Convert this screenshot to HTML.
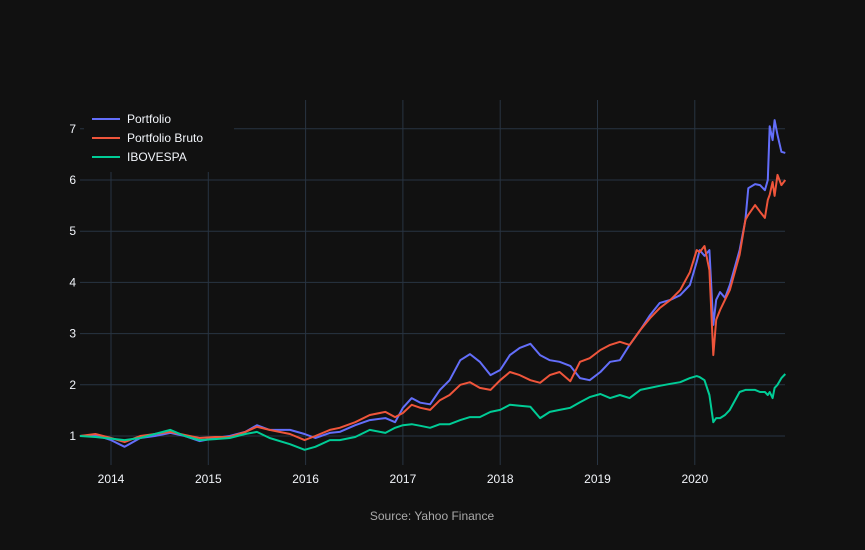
<!DOCTYPE html>
<html><head><meta charset="utf-8"><style>
body{margin:0;background:#111111;}
svg{display:block;font-family:"Liberation Sans",sans-serif;}
</style></head><body>
<svg id="chart" width="865" height="550" xmlns="http://www.w3.org/2000/svg">
<rect width="865" height="550" fill="#111111"/>
<g id="grid"></g><g id="series"></g><g id="axes"></g>
<g id="legend"></g>
<text x="432" y="520" fill="#aaaaaa" font-size="12" text-anchor="middle">Source: Yahoo Finance</text>
</svg>
<script>
const dates=[2013.68,2013.84,2014.00,2014.14,2014.30,2014.45,2014.61,2014.76,2014.91,2015.07,2015.22,2015.38,2015.50,2015.63,2015.84,2015.99,2016.10,2016.25,2016.35,2016.51,2016.66,2016.82,2016.92,2017.00,2017.09,2017.18,2017.28,2017.38,2017.48,2017.59,2017.69,2017.79,2017.90,2018.00,2018.10,2018.20,2018.31,2018.41,2018.51,2018.61,2018.72,2018.82,2018.92,2019.03,2019.13,2019.23,2019.33,2019.44,2019.54,2019.64,2019.75,2019.85,2019.95,2020.02,2020.05,2020.10,2020.15,2020.19,2020.22,2020.26,2020.31,2020.36,2020.46,2020.52,2020.55,2020.62,2020.67,2020.72,2020.75,2020.77,2020.80,2020.82,2020.85,2020.89,2020.93];
const portfolio=[1.00,1.02,0.92,0.79,0.96,1.00,1.06,1.00,0.90,0.96,1.00,1.08,1.21,1.12,1.12,1.04,0.96,1.06,1.08,1.21,1.31,1.35,1.27,1.55,1.74,1.65,1.62,1.90,2.09,2.48,2.60,2.45,2.19,2.29,2.58,2.72,2.80,2.58,2.48,2.45,2.37,2.13,2.09,2.25,2.45,2.48,2.78,3.07,3.36,3.60,3.66,3.75,3.95,4.40,4.63,4.52,4.63,3.17,3.66,3.81,3.70,3.95,4.63,5.22,5.84,5.92,5.90,5.80,6.00,7.05,6.78,7.17,6.88,6.55,6.53];
const portfolioBruto=[1.00,1.04,0.96,0.88,1.00,1.04,1.08,1.02,0.96,0.98,0.98,1.08,1.18,1.12,1.04,0.92,1.00,1.12,1.16,1.27,1.41,1.47,1.37,1.45,1.61,1.55,1.51,1.70,1.80,2.00,2.05,1.94,1.90,2.09,2.25,2.19,2.09,2.04,2.19,2.25,2.07,2.45,2.52,2.68,2.78,2.84,2.78,3.07,3.30,3.50,3.66,3.85,4.20,4.63,4.59,4.71,4.24,2.58,3.27,3.46,3.66,3.85,4.54,5.22,5.32,5.51,5.38,5.26,5.61,5.71,5.96,5.69,6.10,5.90,6.00];
const ibovespa=[1.00,0.98,0.95,0.92,0.96,1.04,1.12,1.00,0.92,0.94,0.96,1.04,1.08,0.96,0.84,0.73,0.79,0.92,0.92,0.98,1.12,1.06,1.16,1.21,1.23,1.20,1.16,1.23,1.23,1.31,1.37,1.37,1.47,1.51,1.61,1.59,1.57,1.35,1.47,1.51,1.55,1.66,1.76,1.82,1.74,1.80,1.74,1.90,1.94,1.98,2.02,2.05,2.13,2.17,2.15,2.09,1.80,1.27,1.35,1.35,1.41,1.51,1.86,1.90,1.90,1.90,1.86,1.86,1.80,1.86,1.74,1.94,2.00,2.13,2.21];
const xTicks=[2014,2015,2016,2017,2018,2019,2020];
const yTicks=[1,2,3,4,5,6,7];
const seriesNames=["Portfolio","Portfolio Bruto","IBOVESPA"];
const seriesColors=["#636efa","#EF553B","#00cc96"];

const L=80,R=785,T=100,B=465;
const X=t=>111+(t-2014)*97.3;
const Y=v=>436-(v-1)*51.2;
const NS="http://www.w3.org/2000/svg";
function mk(tag,attrs,parent){const e=document.createElementNS(NS,tag);for(const k in attrs)e.setAttribute(k,attrs[k]);parent.appendChild(e);return e;}
const grid=document.getElementById('grid'),axes=document.getElementById('axes'),ser=document.getElementById('series'),leg=document.getElementById('legend');
xTicks.forEach(t=>{
  const l=mk('line',{x1:X(t),x2:X(t),y1:T,y2:B,stroke:'#283442','stroke-width':1},grid);
  
  
  const tx=mk('text',{x:X(t),y:483,fill:'#f2f5fa','font-size':12,'text-anchor':'middle'},axes);
  tx.textContent=t;
  
  
});
yTicks.forEach(v=>{
  const l=mk('line',{x1:L,x2:R,y1:Y(v),y2:Y(v),stroke:'#283442','stroke-width':1},grid);
  
  
  const tx=mk('text',{x:76,y:Y(v)+4,fill:'#f2f5fa','font-size':12,'text-anchor':'end'},axes);
  tx.textContent=v;
  
  
});
[portfolio,portfolioBruto,ibovespa].forEach((arr,i)=>{
  const d=arr.map((v,j)=>(j?'L':'M')+X(dates[j]).toFixed(1)+','+Y(v).toFixed(1)).join('');
  const p=mk('path',{d:d,fill:'none',stroke:seriesColors[i],'stroke-width':2,'stroke-linejoin':'round'},ser);
  
  
});
const bg=mk('rect',{x:84,y:100,width:150,height:72,fill:'#111111'},leg);


seriesNames.forEach((n,i)=>{
  const y=119+i*19;
  const g=mk('g',{},leg);
  
  
  mk('line',{x1:92,x2:120,y1:y,y2:y,stroke:seriesColors[i],'stroke-width':2},g);
  const t=mk('text',{x:127,y:y+4,fill:'#f2f5fa','font-size':12},g);
  t.textContent=n;
});
</script>
</body></html>
